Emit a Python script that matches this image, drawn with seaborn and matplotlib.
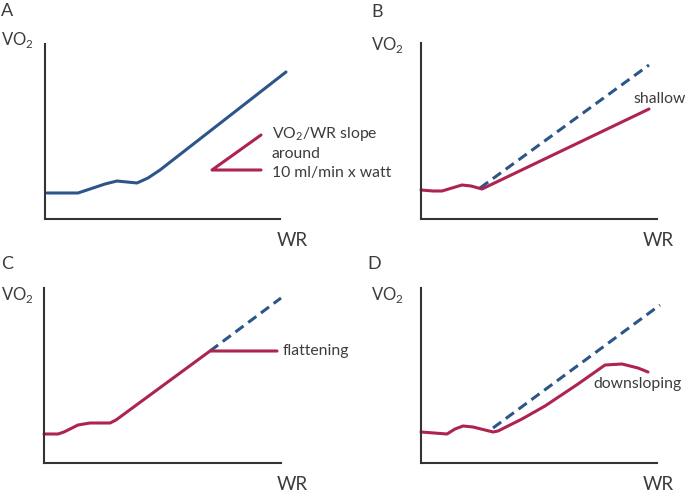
import matplotlib
matplotlib.use("Agg")
import matplotlib.pyplot as plt
import seaborn as sns
import pandas as pd

sns.set_theme(style="white")
plt.rcParams['font.family'] = ['Lato', 'DejaVu Sans']
plt.rcParams['mathtext.fontset'] = 'custom'
plt.rcParams['mathtext.rm'] = 'Lato'

BLUE = '#2c5689'
RED = '#ad2352'
TXT = '#3c3c3c'
AXC = '#333333'

# ---- data (arbitrary units: work rate vs VO2) ----
A_wr = [2, 33, 45, 60, 72, 82, 92, 103, 115, 241]
A_vo2 = [26, 26, 30, 35, 38, 37, 36, 41, 49, 147]
A_slope_wr = [216, 167, 216]
A_slope_vo2 = [84, 49, 49]

B_wr = [0, 12, 21, 31, 41, 50, 61, 228]
B_vo2 = [29, 28, 28, 31, 34, 33, 30, 110]
B_ref_wr = [59, 228]
B_ref_vo2 = [31, 154]

C_wr = [0, 14, 20, 34, 46, 66, 72, 166, 233]
C_vo2 = [29, 29, 31, 38, 40, 40, 43, 112, 112]
C_ref_wr = [166, 237]
C_ref_vo2 = [112, 165]

D_wr = [0, 26, 34, 42, 52, 72, 77, 101, 124, 157, 184, 201, 217, 227]
D_vo2 = [31, 29, 34, 37, 36, 31, 32, 44, 57, 79, 98, 99, 95, 91]
D_ref_wr = [72, 239]
D_ref_vo2 = [35, 158]

panel_labels = ['A', 'B', 'C', 'D']
annot_A = ['VO$_\\mathregular{2}$/WR slope', 'around', '10 ml/min x watt']
annot_B = 'shallow'
annot_C = 'flattening'
annot_D = 'downsloping'

W, H = 690, 493
fig = plt.figure(figsize=(W / 100, H / 100), dpi=100)


def make_ax(ox, oy, right, top):
    ax = fig.add_axes([ox / W, 1 - oy / H, (right - ox) / W, (oy - top) / H])
    ax.set_xlim(0, right - ox)
    ax.set_ylim(0, oy - top)
    sns.despine(ax=ax)
    for s in ('left', 'bottom'):
        ax.spines[s].set_color(AXC)
        ax.spines[s].set_linewidth(1.5)
    ax.set_xticks([])
    ax.set_yticks([])
    ax.set_facecolor('none')
    return ax


def line(ax, x, y, color, dashed=False):
    df = pd.DataFrame({'wr': x, 'vo2': y})
    kw = dict(linestyle=(0, (3.3, 1.9))) if dashed else {}
    sns.lineplot(data=df, x='wr', y='vo2', ax=ax, color=color, lw=2.2,
                 sort=False, estimator=None, clip_on=False, **kw)
    ax.set_xlabel('')
    ax.set_ylabel('')


def ftext(x, y, s, size, **kw):
    fig.text(x / W, 1 - y / H, s, fontsize=size, color=TXT, **kw)


axA = make_ax(45, 219, 280, 44)
line(axA, A_wr, A_vo2, BLUE)
line(axA, A_slope_wr, A_slope_vo2, RED)

axB = make_ax(421, 219, 657, 43)
line(axB, B_ref_wr, B_ref_vo2, BLUE, dashed=True)
line(axB, B_wr, B_vo2, RED)

axC = make_ax(44, 463, 281, 288)
line(axC, C_ref_wr, C_ref_vo2, BLUE, dashed=True)
line(axC, C_wr, C_vo2, RED)

axD = make_ax(421, 463, 657, 288)
line(axD, D_ref_wr, D_ref_vo2, BLUE, dashed=True)
line(axD, D_wr, D_vo2, RED)

# panel letters, axis names
for lab, (lx, ly), (vx, vy), (wx, wy) in zip(
        panel_labels,
        [(1, 16), (371, 17), (1, 269), (367, 269)],
        [(1, 45), (371, 50), (1, 300), (371, 300)],
        [(277, 246), (643, 246), (277, 490), (643, 490)]):
    ftext(lx, ly, lab, 13, va='baseline')
    ftext(vx, vy, 'VO$_\\mathregular{2}$', 12, va='baseline')
    ftext(wx, wy, 'WR', 13.5, va='baseline')

for i, s in enumerate(annot_A):
    ftext(272, 138 + 19.5 * i, s, 11.3, va='baseline')
ftext(633, 103, annot_B, 11.3, va='baseline')
ftext(283, 355, annot_C, 11.3, va='baseline')
ftext(593, 388, annot_D, 11.3, va='baseline')

fig.savefig('out.png', dpi=100)
